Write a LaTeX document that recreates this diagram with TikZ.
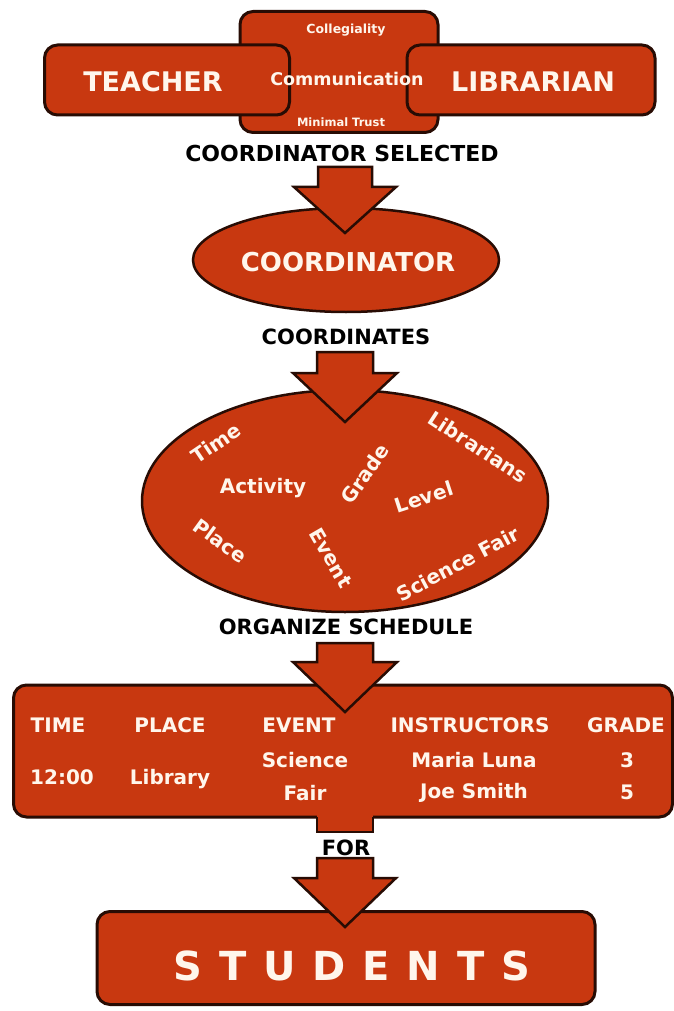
\documentclass[tikz,border=0pt]{standalone}
\usepackage{fontspec}
\setmainfont{DejaVu Sans}
\usetikzlibrary{calc}
\usetikzlibrary{positioning}
\usetikzlibrary{shapes.geometric}

\definecolor{brick}{RGB}{200,56,16}
\definecolor{rim}{RGB}{40,12,4}
\definecolor{cream}{RGB}{255,246,236}

\newcommand{\fs}[1]{\bfseries\fontsize{#1}{#1}\selectfont}

\tikzset{
  box/.style={draw=rim, line width=3pt, fill=brick, rounded corners=13pt},
  oval/.style={ellipse, draw=rim, line width=2.5pt, fill=brick, inner sep=0pt},
  wtxt/.style={text=cream, inner sep=1pt},
  btxt/.style={text=black, font=\fs{21}, inner sep=1pt},
  blk/.style={draw=rim, line width=2.5pt, fill=brick, line join=miter},
}

% block arrow: top of shaft, tip, shaft half width, head half width, head length
\newcommand{\bigarrow}[5]{%
  \draw[blk] ($(#1)+(-#3,0)$) -- ($(#2)+(-#3,-#5)$) -- ($(#2)+(-#4,-#5)$) -- (#2)
    -- ($(#2)+(#4,-#5)$) -- ($(#2)+(#3,-#5)$) -- ($(#1)+(#3,0)$) -- cycle;}

\begin{document}
\begin{tikzpicture}[x=1pt,y=-1pt]
\useasboundingbox[fill=white] (0,0) rectangle (674,1011);

% partners
\node[box, minimum width=198pt, minimum height=121pt] (talk) at (339,72) {};
\node[box, minimum width=245pt, minimum height=70pt] (teacher) at (167,80) {};
\node[box, minimum width=248pt, minimum height=70pt] (librarian) at (531,80) {};
\node[wtxt, font=\fs{27}] (teachertxt) at (153,82) {TEACHER};
\node[wtxt, font=\fs{27}] (librariantxt) at (533,82) {LIBRARIAN};
\node[wtxt, font=\fs{12.5}] (colleg) at (346,30) {Collegiality};
\node[wtxt, font=\fs{17.5}] (comm) at (347,79) {Communication};
\node[wtxt, font=\fs{11.5}] (trust) at (341,122) {Minimal Trust};
\node[btxt, font=\fs{22}] (selected) at (342,153) {COORDINATOR SELECTED};

% coordinator
\node[oval, minimum width=306pt, minimum height=104pt] (coord) at (346,260) {};
\node[wtxt, font=\fs{26}] (coordtxt) at (348,262) {COORDINATOR};
\coordinate (tip1) at (345,233);
\bigarrow{345,167}{tip1}{27}{51}{46}
\node[btxt] (coordinates) at (346,337) {COORDINATES};

% things to organize
\node[oval, minimum width=406pt, minimum height=222pt] (ideas) at (345,501) {};
\coordinate (tip2) at (345,422);
\bigarrow{345,352}{tip2}{28}{52}{49}
\begin{scope}[every node/.style={wtxt, font=\fs{20}}]
\node[rotate=34] (time) at (216,443) {Time};
\node (activity) at (263,488) {Activity};
\node[rotate=55] (grade) at (365,474) {Grade};
\node[rotate=-33] (libs) at (478,447) {Librarians};
\node[rotate=18] (level) at (424,497) {Level};
\node[rotate=-36] (place) at (220,541) {Place};
\node[rotate=-60] (event) at (331,558) {Event};
\node[rotate=28] (fair) at (458,564) {Science Fair};
\end{scope}
\node[btxt] (organize) at (346,627) {ORGANIZE SCHEDULE};

% schedule
\node[box, minimum width=659pt, minimum height=132pt] (table) at (343,751) {};
\coordinate (tip3) at (345,712);
\bigarrow{345,643}{tip3}{28}{52}{50}
\begin{scope}[every node/.style={wtxt, font=\fs{20}}]
\node (h1) at (58,725) {TIME};
\node (h2) at (170,725) {PLACE};
\node (h3) at (299,725) {EVENT};
\node (h4) at (470,725) {INSTRUCTORS};
\node (h5) at (626,725) {GRADE};
\node (c1) at (62,777) {12:00};
\node (c2) at (170,779) {Library};
\node (c3) at (305,760) {Science};
\node (c3b) at (305,793) {Fair};
\node (c4) at (474,760) {Maria Luna};
\node (c4b) at (474,793) {Joe Smith};
\node (c5) at (627,760) {3};
\node (c5b) at (627,792) {5};
\end{scope}
% stub below the table
\coordinate (stub) at (345,832);
\fill[brick] ($(stub)+(-28,-18)$) rectangle ($(stub)+(28,0)$);
\draw[rim, line width=2.5pt, line join=miter] ($(stub)+(-28,-15)$) -- ($(stub)+(-28,0)$) -- ($(stub)+(28,0)$) -- ($(stub)+(28,-15)$);
\node[btxt] (for) at (346,848) {FOR};

% students
\node[box, minimum width=498pt, minimum height=93pt] (students) at (346,958) {};
\node[wtxt, font=\fs{40}\addfontfeature{LetterSpace=42}] (studtxt) at (352,966) {STUDENTS};
\coordinate (tip4) at (345,927);
\bigarrow{345,858}{tip4}{28}{51}{49}
\end{tikzpicture}
\end{document}
